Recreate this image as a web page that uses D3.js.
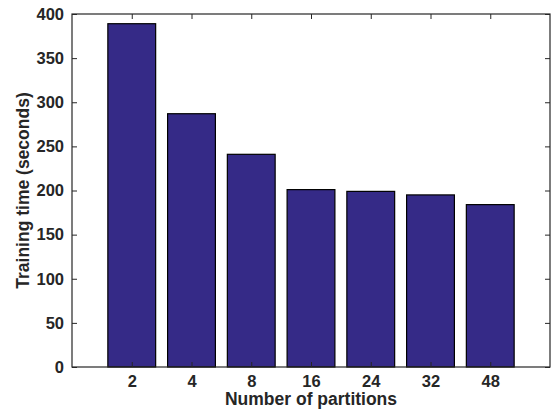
<!DOCTYPE html>
<html><head><meta charset="utf-8">
<script src="https://cdn.jsdelivr.net/npm/d3@7"></script>
<style>body{margin:0;background:#fff}svg{display:block}</style>
</head><body>
<script>
const categories = ["2","4","8","16","24","32","48"];
const values = [389, 287, 241, 201, 199, 195, 184];
const yTicks = [0,50,100,150,200,250,300,350,400];
const xLabel = "Number of partitions";
const yLabel = "Training time (seconds)";

const W = 554, H = 414;
const m = {left:72, right:4, top:14, bottom:47};
const svg = d3.select("body").append("svg").attr("width",W).attr("height",H);
const x = d3.scaleLinear().domain([0, categories.length+1]).range([m.left, W-m.right]);
const y = d3.scaleLinear().domain([0,400]).range([H-m.bottom, m.top]);
const unit = x(1)-x(0);
const axisCol = "#262626";
const font = "'Liberation Sans', Arial, sans-serif";

// bars
svg.append("g").selectAll("rect").data(values).join("rect")
  .attr("x",(d,i)=>x(i+1)-0.4*unit)
  .attr("width",0.8*unit)
  .attr("y",d=>y(d))
  .attr("height",d=>y(0)-y(d))
  .attr("fill","#352a87")
  .attr("stroke","#000").attr("stroke-width",1.2);

const g = svg.append("g");
g.append("rect").attr("x",x(0)).attr("y",y(400)).attr("width",x(8)-x(0)).attr("height",y(0)-y(400))
  .attr("fill","none").attr("stroke",axisCol).attr("stroke-width",1.2);

const yAxis = d3.axisLeft(y).tickValues(yTicks).tickSize(-5).tickPadding(8);
const ya = svg.append("g").attr("transform",`translate(${x(0)},0)`).call(yAxis);
ya.select(".domain").remove();
ya.selectAll("line").attr("stroke",axisCol);
ya.selectAll("text").attr("font-family",font).attr("font-weight","bold").attr("font-size",16.5).attr("fill",axisCol);

const yr = svg.append("g").attr("transform",`translate(${x(8)},0)`).call(d3.axisRight(y).tickValues(yTicks).tickSize(-5).tickFormat(""));
yr.select(".domain").remove(); yr.selectAll("line").attr("stroke",axisCol);

const xAxis = d3.axisBottom(x).tickValues(d3.range(1,categories.length+1)).tickFormat(d=>categories[d-1]).tickSize(-5).tickPadding(8);
const xa = svg.append("g").attr("transform",`translate(0,${y(0)})`).call(xAxis);
xa.select(".domain").remove(); xa.selectAll("line").attr("stroke",axisCol);
xa.selectAll("text").attr("font-family",font).attr("font-weight","bold").attr("font-size",16.5).attr("fill",axisCol);

const xt = svg.append("g").attr("transform",`translate(0,${y(400)})`).call(d3.axisTop(x).tickValues(d3.range(1,categories.length+1)).tickSize(-5).tickFormat(""));
xt.select(".domain").remove(); xt.selectAll("line").attr("stroke",axisCol);

svg.append("text").attr("x",(x(0)+x(8))/2).attr("y",H-9).attr("text-anchor","middle")
  .attr("font-family",font).attr("font-weight","bold").attr("font-size",17.5).attr("fill",axisCol).text(xLabel);
svg.append("text").attr("transform",`translate(29,${(y(0)+y(400))/2}) rotate(-90)`).attr("text-anchor","middle")
  .attr("font-family",font).attr("font-weight","bold").attr("font-size",17.5).attr("fill",axisCol).text(yLabel);
</script>
</body></html>
